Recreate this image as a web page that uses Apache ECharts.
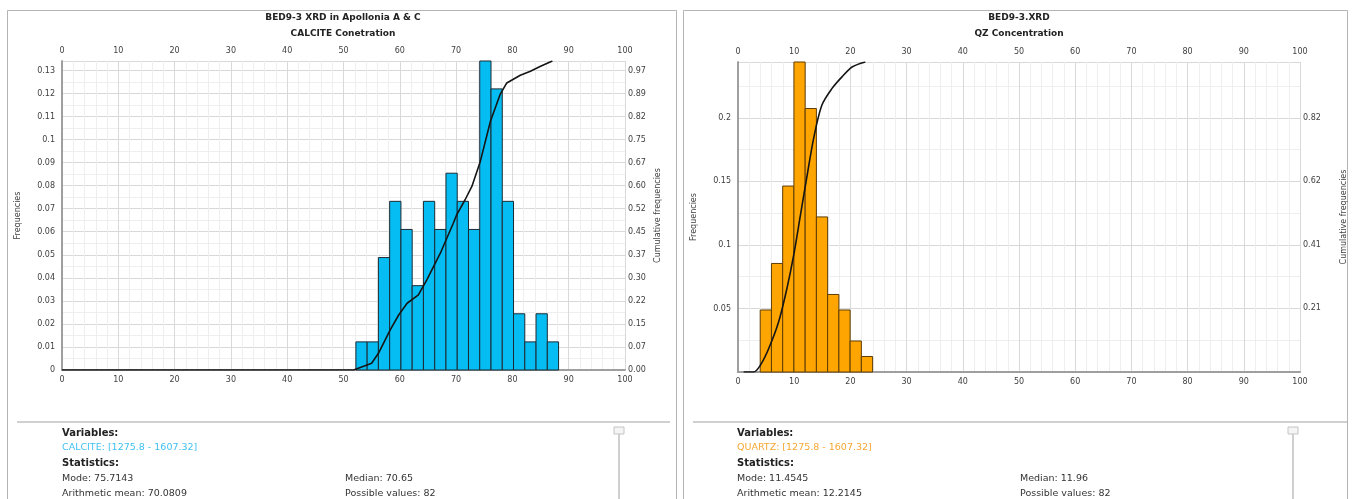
<!DOCTYPE html>
<html>
<head>
<meta charset="utf-8">
<title>BED9-3 XRD histograms</title>
<script src="https://cdn.jsdelivr.net/npm/echarts@6/dist/echarts.min.js"></script>
<style>
html, body { margin: 0; padding: 0; background: #fff; }
#chart { width: 1352px; height: 499px; }
</style>
</head>
<body>
<div id="chart"></div>
<script>
// calcite histogram (bin edges, frequencies) and cumulative curve
var calciteEdges = [52.2, 54.2, 56.2, 58.2, 60.2, 62.2, 64.2, 66.2, 68.2, 70.2, 72.2, 74.2, 76.2, 78.2, 80.2, 82.2, 84.2, 86.2, 88.2];
var calciteFreq = [0.0122, 0.0122, 0.0488, 0.0732, 0.061, 0.0366, 0.0732, 0.061, 0.0854, 0.0732, 0.061, 0.1341, 0.122, 0.0732, 0.0244, 0.0122, 0.0244, 0.0122];
var calciteCumX = [0, 51.8, 55.0, 56.2, 58.3, 59.8, 61.3, 63.3, 64.8, 67.2, 69.5, 70.1, 71.6, 72.8, 74.3, 76.1, 77.8, 79.0, 81.4, 83.2, 85.0, 87.1];
var calciteCumY = [0, 0, 0.022, 0.054, 0.13, 0.178, 0.216, 0.243, 0.292, 0.378, 0.475, 0.502, 0.551, 0.594, 0.675, 0.805, 0.891, 0.929, 0.954, 0.967, 0.983, 1.0];

// quartz histogram and cumulative curve
var quartzEdges = [3.95, 5.95, 7.95, 9.95, 11.95, 13.95, 15.95, 17.95, 19.95, 21.95, 23.95];
var quartzFreq = [0.0488, 0.0854, 0.1463, 0.2439, 0.2073, 0.122, 0.061, 0.0488, 0.0244, 0.0122];
var quartzCumX = [1.0, 2.8, 3.97, 5.45, 7.22, 8.7, 9.9, 11.1, 12.3, 13.45, 14.9, 16.7, 18.5, 20.3, 22.65];
var quartzCumY = [0, 0, 0.0216, 0.075, 0.161, 0.269, 0.376, 0.505, 0.634, 0.753, 0.86, 0.914, 0.952, 0.984, 1.0];

// axis settings [min, max, interval]
var xTicks = [0, 100, 10];
var calciteFreqAxis = [0, 0.1341, 0.01];
var calciteCumAxis = [0, 1, 0.07455];
var quartzFreqAxis = [0, 0.2439, 0.05];
var quartzCumAxis = [0, 1, 0.2051];

var FONT = 'DejaVu Sans';
var TXT = '#404040';

function bins(edges, freq) {
    var out = [];
    for (var i = 0; i < freq.length; i++) {
        out.push([edges[i], edges[i + 1], freq[i]]);
    }
    return out;
}
function pairs(xs, ys) {
    return xs.map(function (x, i) { return [x, ys[i]]; });
}

function histItem(params, api) {
    var p0 = api.coord([api.value(0), api.value(2)]);
    var p1 = api.coord([api.value(1), 0]);
    return {
        type: 'rect',
        shape: { x: p0[0], y: p0[1], width: p1[0] - p0[0], height: p1[1] - p0[1] },
        style: api.style()
    };
}

var lbl = { color: TXT, fontFamily: FONT, fontSize: 8 };
var border = { show: true, lineStyle: { color: '#9a9a9a', width: 1.5 } };

function xAxis(grid, pos) {
    var bottom = pos === 'bottom';
    return {
        type: 'value', gridIndex: grid, position: pos,
        min: xTicks[0], max: xTicks[1], interval: xTicks[2],
        axisLine: border, axisTick: { show: false },
        axisLabel: Object.assign({ margin: 6 }, lbl),
        splitLine: { show: bottom, lineStyle: { color: '#d9d9d9', width: 1 } },
        minorTick: { show: false, splitNumber: 5 },
        minorSplitLine: { show: bottom, lineStyle: { color: '#eeeeee', width: 1 } }
    };
}
function yAxis(grid, pos, ax, opts) {
    var left = pos === 'left';
    return Object.assign({
        type: 'value', gridIndex: grid, position: pos,
        min: ax[0], max: ax[1], interval: ax[2],
        axisLine: border, axisTick: { show: false },
        nameLocation: 'middle', nameRotate: 90,
        nameTextStyle: { color: TXT, fontFamily: FONT, fontSize: 8 },
        splitLine: { show: left, lineStyle: { color: '#d9d9d9', width: 1 } },
        minorTick: { show: false, splitNumber: 2 },
        minorSplitLine: { show: left, lineStyle: { color: '#eeeeee', width: 1 } }
    }, opts);
}
function fixed2(v) { return v.toFixed(2); }

function panelTexts(x0, sepX0, sepX1, slideX, varName, varColor, mode, mean, median) {
    var reg = '9.5px "' + FONT + '"';
    var bold = 'bold 10px "' + FONT + '"';
    function t(x, y, s, fill, font) {
        return { type: 'text', x: x, y: y, style: { text: s, fill: fill, font: font, textVerticalAlign: 'middle' } };
    }
    return [
        { type: 'line', shape: { x1: sepX0, y1: 422, x2: sepX1, y2: 422 }, style: { stroke: '#d0d0d0', lineWidth: 2 } },
        { type: 'rect', shape: { x: slideX - 5, y: 427, width: 10, height: 7 }, style: { fill: '#f4f4f4', stroke: '#c4c4c4', lineWidth: 1 } },
        { type: 'line', shape: { x1: slideX, y1: 434, x2: slideX, y2: 499 }, style: { stroke: '#cfcfcf', lineWidth: 2 } },
        t(x0, 433, 'Variables:', '#222', bold),
        t(x0, 448, varName + ': [1275.8 - 1607.32]', varColor, reg),
        t(x0, 463, 'Statistics:', '#222', bold),
        t(x0, 479, 'Mode: ' + mode, '#333', reg),
        t(x0, 494, 'Arithmetic mean: ' + mean, '#333', reg),
        t(x0 + 283, 479, 'Median: ' + median, '#333', reg),
        t(x0 + 283, 494, 'Possible values: 82', '#333', reg)
    ];
}

function titleText(cx, y, text) {
    return { type: 'text', x: cx, y: y, style: { text: text, fill: '#222', font: 'bold 9px "' + FONT + '"', textAlign: 'center', textVerticalAlign: 'middle' } };
}

var graphics = [
    { type: 'rect', shape: { x: 7.5, y: 10.5, width: 669, height: 500 }, style: { fill: 'none', stroke: '#b4b4b4', lineWidth: 1 }, z: -10 },
    { type: 'rect', shape: { x: 683.5, y: 10.5, width: 664, height: 500 }, style: { fill: 'none', stroke: '#b4b4b4', lineWidth: 1 }, z: -10 },
    titleText(343, 18, 'BED9-3 XRD in Apollonia A & C'),
    titleText(343, 34, 'CALCITE Conetration'),
    titleText(1019, 18, 'BED9-3.XRD'),
    titleText(1019, 34, 'QZ Concentration')
].concat(
    panelTexts(62, 17, 670, 619, 'CALCITE', '#41c1f2', '75.7143', '70.0809', '70.65'),
    panelTexts(737, 693, 1347, 1293, 'QUARTZ', '#f6a733', '11.4545', '12.2145', '11.96')
);

var chart = echarts.init(document.getElementById('chart'), null, { renderer: 'canvas' });

var option = {
    animation: false,
    backgroundColor: '#fff',
    grid: [
        { left: 62, top: 61, width: 563, height: 309 },
        { left: 738, top: 62, width: 562, height: 310 }
    ],
    xAxis: [xAxis(0, 'bottom'), xAxis(0, 'top'), xAxis(1, 'bottom'), xAxis(1, 'top')],
    yAxis: [
        yAxis(0, 'left', calciteFreqAxis, { name: 'Frequencies', nameGap: 40,
            axisLabel: Object.assign({ margin: 7, showMaxLabel: false }, lbl) }),
        yAxis(0, 'right', calciteCumAxis, { name: 'Cumulative frequencies', nameGap: 29,
            axisLabel: Object.assign({ margin: 3, showMaxLabel: false, formatter: fixed2 }, lbl) }),
        yAxis(1, 'left', quartzFreqAxis, { name: 'Frequencies', nameGap: 40,
            axisLabel: Object.assign({ margin: 7, showMinLabel: false, showMaxLabel: false }, lbl) }),
        yAxis(1, 'right', quartzCumAxis, { name: 'Cumulative frequencies', nameGap: 40,
            axisLabel: Object.assign({ margin: 3, showMinLabel: false, showMaxLabel: false, formatter: fixed2 }, lbl) })
    ],
    series: [
        {
            type: 'custom', name: 'CALCITE', xAxisIndex: 0, yAxisIndex: 0,
            renderItem: histItem, encode: { x: [0, 1], y: 2 },
            itemStyle: { color: '#05bdf3', borderColor: '#1c2a33', borderWidth: 1 },
            data: bins(calciteEdges, calciteFreq)
        },
        {
            type: 'line', name: 'CALCITE cumulative', xAxisIndex: 0, yAxisIndex: 1,
            data: pairs(calciteCumX, calciteCumY), showSymbol: false, symbol: 'none',
            lineStyle: { color: '#151515', width: 1.6 }, z: 5
        },
        {
            type: 'custom', name: 'QUARTZ', xAxisIndex: 2, yAxisIndex: 2,
            renderItem: histItem, encode: { x: [0, 1], y: 2 },
            itemStyle: { color: '#ffa502', borderColor: '#5e3d05', borderWidth: 1 },
            data: bins(quartzEdges, quartzFreq)
        },
        {
            type: 'line', name: 'QUARTZ cumulative', xAxisIndex: 2, yAxisIndex: 3,
            data: pairs(quartzCumX, quartzCumY), showSymbol: false, symbol: 'none', smooth: 0.3,
            lineStyle: { color: '#151515', width: 1.6 }, z: 5
        }
    ],
    graphic: graphics
};

chart.setOption(option);
</script>
</body>
</html>
